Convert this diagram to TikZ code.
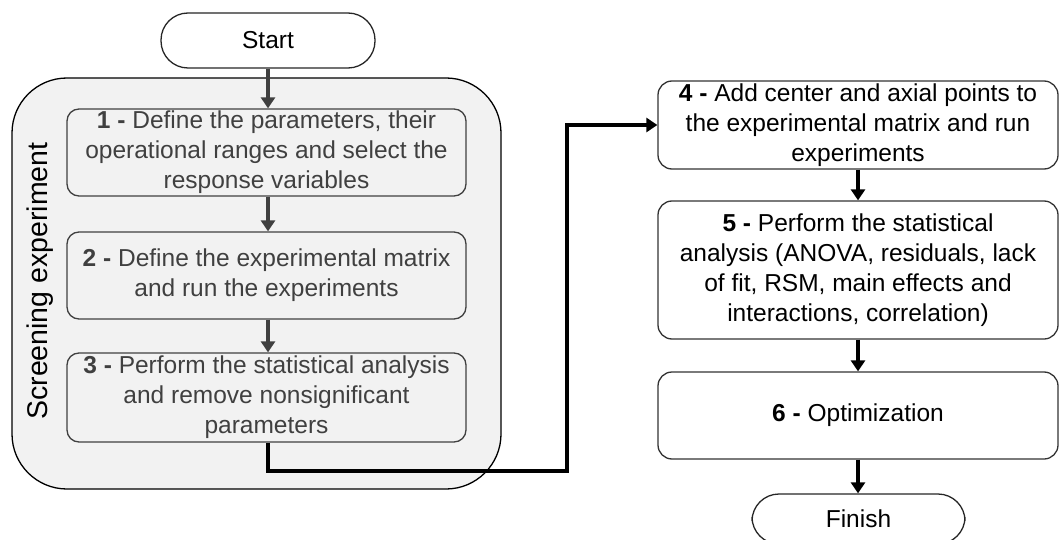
\documentclass[tikz,border=0pt]{standalone}
\usepackage{fontspec}
\setmainfont{Liberation Sans}
\usetikzlibrary{arrows.meta}
\definecolor{dgray}{HTML}{404040}
\definecolor{lgray}{HTML}{F2F2F2}
\begin{document}
\begin{tikzpicture}[x=1pt,y=-1pt,
  every node/.style={font=\fontsize{24.5}{30}\selectfont, align=center, inner sep=0pt},
  lbox/.style={draw=dgray, line width=1.3pt, fill=lgray, rounded corners=12pt, text=dgray, minimum width=399pt},
  rbox/.style={draw=black!80, line width=1.3pt, fill=white, rounded corners=14pt, text=black, minimum width=400pt},
  term/.style={draw=black!85, line width=1.3pt, fill=white, rounded corners=27pt},
  larr/.style={draw=dgray, line width=3.5pt, -{Triangle[length=11pt,width=14pt]}},
  rarr/.style={draw=black, line width=3.5pt, -{Triangle[length=11pt,width=14pt]}}]
\useasboundingbox (0,0) rectangle (1059,540);
% container
\node[draw=black, line width=1.3pt, fill=lgray, rounded corners=55pt, minimum width=489pt, minimum height=411pt] (cont) at (256.5,283.5) {};
\node[rotate=90, font=\fontsize{28.5}{32}\selectfont] (lab) at (40,281) {Screening experiment};
% terminals
\node[term, minimum width=214pt, minimum height=55pt] (start) at (268,40.5) {Start};
\node[term, minimum width=213pt, minimum height=50pt] (finish) at (858.5,519) {Finish};
% left boxes
\node[lbox, minimum height=87pt] (b1) at (266.5,152.5) {\textbf{1 -} Define the parameters, their\\operational ranges and select the\\response variables};
\node[lbox, minimum height=87pt] (b2) at (266.5,275.5) {\textbf{2 -} Define the experimental matrix\\and run the experiments};
\node[lbox, minimum height=89pt] (b3) at (266.5,397.5) {\textbf{3 -} Perform the statistical analysis\\and remove nonsignificant\\parameters};
% right boxes
\node[rbox, minimum height=88pt] (b4) at (858,125) {\textbf{4 -} Add center and axial points to\\the experimental matrix and run\\experiments};
\node[rbox, minimum height=138pt] (b5) at (858,270) {\textbf{5 -} Perform the statistical\\analysis (ANOVA, residuals, lack\\of fit, RSM, main effects and\\interactions, correlation)};
\node[rbox, minimum height=87pt] (b6) at (858,415.5) {\textbf{6 -} Optimization};
\coordinate (c1) at (268,471);
\coordinate (c2) at (567,471);
% arrows
\draw[larr] (start.south) -- (b1.north -| start.south);
\draw[larr] (b1.south -| start.south) -- (b2.north -| start.south);
\draw[larr] (b2.south -| start.south) -- (b3.north -| start.south);
\draw[rarr] (b3.south -| c1) -- (c1) -- (c2) |- (b4.west);
\draw[rarr] (b4.south) -- (b5.north);
\draw[rarr] (b5.south) -- (b6.north);
\draw[rarr] (b6.south) -- (b6.south |- finish.north);
\end{tikzpicture}
\end{document}
